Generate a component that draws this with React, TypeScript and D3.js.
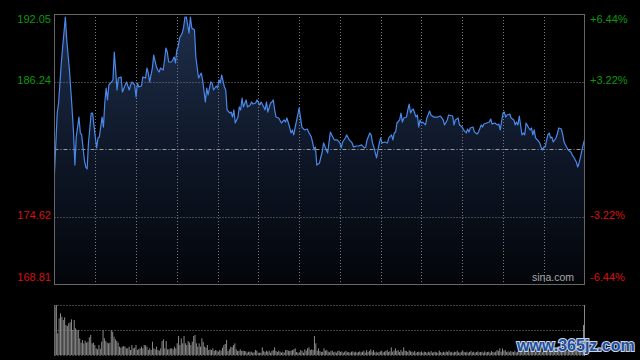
import React from "react";
import * as d3 from "d3";

// minutes since open (0..390) and price
const minutes = [
  0,2,3,5,6,8,9,11,13,14,15,16,18,19,20,22,23,24,25,27,28,30,31,32,33,35,36,37,38,39,40,42,43,44,45,46,47,49,50,52,53,55,56,57,59,60,61,62,64,65,67,68,69,70,72,73,75,76,77,78,80,81,82,83,84,86,87,88,89,90,91,92,94,95,96,
  97,99,100,101,103,104,106,108,109,111,112,113,115,116,117,119,120,121,122,123,125,126,127,129,130,131,132,133,135,136,137,138,139,141,142,144,145,146,148,149,151,152,154,155,156,157,159,160,161,162,163,165,167,169,170,171,173,174,175,176,177,179,180,181,182,184,186,187,189,190,191,192,193,195,196,197,198,200,201,203,204,206,208,210,211,212,214,215,217,219,220,222,224,226,228,229,230,232,233,234,235,237,238,239,240,241,243,245,246,248,249,250,251,252,254,255,256,257,259,260,261,262,263,264,266,267,268,269,270,271,273,274,276,277,279,280,282,284,286,287,289,290,
  293,294,295,297,298,300,301,303,304,305,306,308,309,311,312,314,315,316,318,320,321,322,324,326,327,328,330,331,332,333,335,336,338,339,340,341,342,344,345,346,347,349,350,351,352,353,354,356,357,358,359,360,361,363,364,365,366,367,369,370,371,373,374,375,376,378,379,380,381,382,384,385,386,387,389,390
];

const prices = [
  178.37,183.53,184.39,187.83,189.21,191.79,189.81,187.23,183.79,181.81,179.05,181.46,183.18,181.81,181.64,179.48,178.88,178.71,180.95,183.53,183.53,181.46,180.52,181.38,181.46,183.18,182.32,184.39,185.68,184.65,185.94,186.20,186.37,188.78,187.23,185.51,186.54,186.63,185.34,185.94,186.20,185.51,185.94,186.20,185.94,184.91,186.11,185.77,185.85,186.63,186.54,187.40,186.97,186.20,187.40,188.52,187.49,187.23,187.06,187.40,187.23,188.09,189.12,188.78,187.92,187.92,188.09,188.35,187.83,188.95,189.21,189.98,190.41,190.93,191.79,
  191.79,190.41,191.79,190.85,190.67,188.35,186.54,186.97,186.37,184.48,185.68,185.08,186.20,186.11,185.51,185.85,185.68,186.37,186.11,186.80,185.77,185.51,183.79,183.53,183.61,183.18,183.79,182.67,183.18,184.05,183.79,184.82,184.05,184.65,184.05,184.22,184.48,184.30,184.39,184.65,184.22,184.48,184.05,183.79,184.48,183.61,184.39,184.48,184.65,183.79,183.18,183.10,182.67,182.93,182.75,183.10,182.32,181.81,182.07,181.64,182.24,183.36,183.96,183.18,182.32,182.07,182.15,181.89,181.46,180.95,180.35,180.60,179.05,179.23,179.74,180.17,180.95,180.35,180.09,181.89,181.64,181.21,181.21,180.95,180.52,181.03,181.38,181.64,181.21,180.95,180.60,180.69,180.69,180.78,180.52,180.60,181.21,181.81,181.64,180.95,180.60,179.66,180.35,180.95,181.38,180.95,181.03,180.95,181.38,181.64,181.21,181.81,181.89,182.67,182.93,183.53,182.75,183.10,183.18,183.79,184.30,183.53,183.79,183.87,183.18,183.36,182.32,182.93,182.67,182.75,182.50,183.10,183.70,183.36,183.18,183.18,183.18,183.27,182.93,182.50,182.93,183.36,
  183.27,182.50,182.93,183.10,182.50,182.32,182.07,181.81,182.15,181.89,182.24,182.32,181.89,181.72,181.89,182.50,182.32,182.58,182.67,182.75,183.01,182.58,182.67,182.50,182.58,182.07,183.53,183.61,183.18,183.36,183.44,183.10,182.93,182.50,182.75,182.50,183.27,181.64,181.81,181.64,182.67,182.24,182.07,182.24,181.64,182.07,181.38,181.12,180.95,180.60,180.35,180.60,180.60,181.64,181.81,181.38,181.46,181.03,181.38,181.72,182.24,182.15,181.64,181.03,180.78,180.35,180.26,180.17,179.91,179.74,179.31,178.88,179.23,179.74,180.78,181.21
];

const volumes = [
  14500,15000,6500,11000,12500,11500,10500,11300,9000,8700,
  9500,9800,10700,7500,10500,8000,7500,7500,5000,3700,
  4500,3500,4300,3700,4000,5300,6000,3500,3700,3000,
  2000,1700,3000,1900,4000,7500,5000,4200,3700,3500,
  3700,7500,7000,5500,4700,4200,3700,2500,2200,2500,
  2700,2500,2000,2000,2500,1500,3000,2000,2200,3000,
  1500,1800,2000,2500,2000,3000,2900,2500,1500,2000,
  1500,4000,2000,1700,2500,1500,1300,2000,4200,4700,
  2000,4200,1700,1700,2000,2000,1700,2500,2000,3500,
  5700,3000,5000,3500,5700,3500,3000,4200,3700,3000,
  4000,5700,6000,3500,2500,3500,2500,5000,3900,2500,
  2200,3000,1500,1700,1500,2000,1200,1500,1300,1000,
  1500,1300,2200,3000,3300,4500,1200,1700,2500,2300,
  3000,3500,1700,1200,1300,1700,1200,1300,1200,1100,
  700,1000,1000,1000,700,800,1500,1300,700,700,
  700,2300,1200,900,1300,1000,1300,700,1200,1500,
  2300,1200,900,1300,1000,700,1000,700,1500,1500,
  1300,1200,1300,1500,1700,2000,900,700,800,1500,
  1200,700,1700,1300,2000,2300,1500,1700,1500,5700,
  3500,1300,2000,1200,900,1000,2000,1300,1500,1000,
  800,1200,1300,800,1000,700,1200,1300,900,1100,
  700,1000,1200,800,900,700,1000,1100,800,1000,
  700,900,1100,800,1000,1300,700,1500,900,1200,
  1700,1000,1500,800,1000,700,900,1100,1300,800,
  1000,1200,1500,900,1100,2300,1000,1300,2000,1200,
  1500,900,1500,1000,2300,1300,1200,900,1400,1100,
  1000,800,1200,700,900,1000,800,1100,700,1000,
  900,700,1000,800,1200,700,900,1000,800,700,
  1300,900,700,1000,800,1100,900,1300,800,1000,
  700,1000,900,1300,800,700,1000,1400,900,800,
  1000,700,900,1200,800,1000,700,900,1100,800,
  900,1000,700,1100,800,900,1000,700,1200,900,
  800,1000,1500,1200,2000,1000,2000,1300,1500,900,
  1100,800,1200,1000,900,1300,800,1000,1200,900,
  1100,1300,900,1000,800,1500,1200,1000,1300,900,
  1000,1200,800,1100,1400,1000,1200,900,1300,1100,
  1000,1500,1200,900,1300,1100,1000,1400,1200,1500,
  1300,1100,1600,1200,1400,1000,1500,1800,1300,1600,
  1400,1700,2000,1500,2200,9000
];

const leftTicks = [192.05, 186.24, 174.62, 168.81];
const rightTicks = ["+6.44%", "+3.22%", "-3.22%", "-6.44%"];
const prevClose = 180.43;

export default function App() {
  const W = 640, H = 360;
  const L = 54.5, R = 584.5, T = 14, B = 284;
  const vTop = 305, vMid = 330, vBot = 355;
  const font = "'Liberation Sans', Arial, sans-serif";

  const x = d3.scaleLinear().domain([0, 390]).range([L, R]);
  const y = d3.scaleLinear().domain([168.81, 192.05]).range([B, T]);
  const pts: [number, number][] = minutes.map((m, i) => [m, prices[i]]);
  const line = d3.line<[number, number]>().x(d => x(d[0])).y(d => y(d[1]));
  const area = d3.area<[number, number]>().x(d => x(d[0])).y0(B).y1(d => y(d[1]));

  const vx = d3.scaleLinear().domain([0, volumes.length - 1]).range([55, 583.5]);
  const vy = d3.scaleLinear().domain([0, 15000]).range([vBot, vTop]);

  const vGrid = d3.range(1, 13).map(k => Math.round(x(k * 30)) + 0.5);
  const hGrid = [186.24, 174.62].map(v => Math.round(y(v)) + 0.5);
  const midY = Math.round(y(prevClose)) + 0.5;

  const labelY = (v: number) => Math.min(Math.max(y(v), 20), 278);
  const green = "#0c9a0c";
  const red = "#d81010";

  return (
    <svg width={W} height={H} style={{ position: "absolute", left: 0, top: 0, display: "block" }}>
      <defs>
        <linearGradient id="fillGrad" gradientUnits="userSpaceOnUse" x1="0" y1={T} x2="0" y2={B}>
          <stop offset="0%" stopColor="#1e2e4b" />
          <stop offset="50%" stopColor="#0f1829" />
          <stop offset="100%" stopColor="#030509" />
        </linearGradient>
      </defs>
      <rect x={0} y={0} width={W} height={H} fill="#000" />

      {/* area + line */}
      <path d={area(pts) || ""} fill="url(#fillGrad)" />

      {/* grid */}
      {vGrid.map((gx, i) => (
        <line key={"vg" + i} x1={gx} x2={gx} y1={T} y2={B} stroke="#7a7a7a" strokeWidth={1} strokeDasharray="1 2" />
      ))}
      {hGrid.map((gy, i) => (
        <line key={"hg" + i} x1={L} x2={R} y1={gy} y2={gy} stroke="#7a7a7a" strokeWidth={1} strokeDasharray="1 2" />
      ))}
      <line x1={L} x2={R} y1={midY} y2={midY} stroke="#9a9a9a" strokeWidth={1} strokeDasharray="4 2 1 2" />

      <path d={line(pts) || ""} fill="none" stroke="#4a88ea" strokeWidth={1.2} strokeLinejoin="round" />

      {/* frame */}
      <line x1={L} x2={R} y1={T + 0.5} y2={T + 0.5} stroke="#666" />
      <line x1={L} x2={R} y1={B + 0.5} y2={B + 0.5} stroke="#666" />
      <line x1={L} x2={L} y1={T} y2={B + 1} stroke="#666" />
      <line x1={R} x2={R} y1={T} y2={B + 1} stroke="#666" />

      {/* labels */}
      {leftTicks.map((v, i) => (
        <text key={"lt" + i} x={51} y={labelY(v)} textAnchor="end" dominantBaseline="middle"
          fontFamily={font} fontSize={11} fill={v > prevClose ? green : red}>{v.toFixed(2)}</text>
      ))}
      {rightTicks.map((t, i) => (
        <text key={"rt" + i} x={590} y={labelY(leftTicks[i])} textAnchor="start" dominantBaseline="middle"
          fontFamily={font} fontSize={11} fill={t.startsWith("+") ? green : red}>{t}</text>
      ))}
      <text x={574} y={281} textAnchor="end" fontFamily={font} fontSize={10.5} fill="#a8a8a8">sina.com</text>

      {/* volume panel */}
      {[vTop, vMid, vBot].map((gy, i) => (
        <line key={"vl" + i} x1={L} x2={R} y1={gy + 0.5} y2={gy + 0.5} stroke="#7a7a7a" strokeDasharray="1 2" />
      ))}
      {volumes.map((v, i) => (
        <rect key={"vb" + i} x={vx(i) - 0.5} y={vy(v)} width={1} height={vBot - vy(v)} fill="#8a8a8a" />
      ))}
      <line x1={L} x2={L} y1={vTop} y2={vBot + 1} stroke="#666" />
      <line x1={R} x2={R} y1={vTop} y2={vBot + 1} stroke="#888" />

      {/* watermark */}
      <text x={517} y={351} fontFamily={font} fontWeight="bold" fontSize={16} fill="#1f4f9e"
        stroke="#c9d3e3" strokeWidth={2} paintOrder="stroke" style={{ paintOrder: "stroke" }}>www.365jz.com</text>
    </svg>
  );
}
